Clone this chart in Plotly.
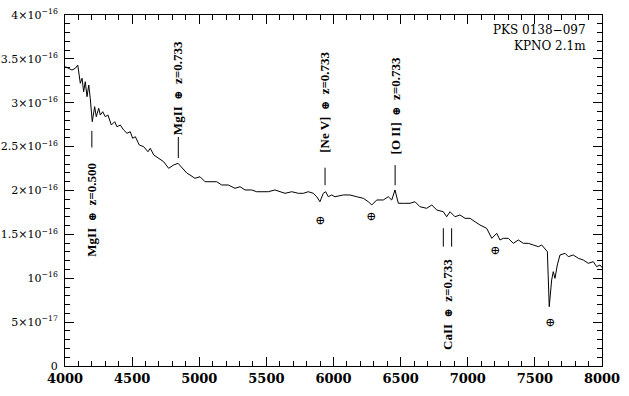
import plotly.graph_objects as go

# Spectrum (wavelength in Angstrom, flux in units of 1e-16)
wavelength = [4002, 4028, 4052, 4077, 4095, 4114, 4127, 4139, 4151, 4164, 4177, 4188, 4203,
              4221, 4233, 4251, 4263, 4281, 4300, 4320, 4345, 4370, 4387, 4412, 4437, 4462,
              4486, 4504, 4524, 4553, 4586, 4618, 4635, 4661, 4698, 4735, 4772, 4810, 4842,
              4872, 4909, 4931, 4968, 5006, 5043, 5080, 5130, 5167, 5216, 5266, 5304, 5341,
              5391, 5428, 5465, 5514, 5564, 5602, 5639, 5689, 5738, 5775, 5812, 5850, 5875,
              5899, 5924, 5942, 5961, 5987, 6011, 6073, 6123, 6173, 6222, 6259, 6285, 6322,
              6371, 6408, 6434, 6458, 6483, 6520, 6570, 6607, 6644, 6694, 6732, 6769, 6818,
              6843, 6868, 6905, 6942, 6980, 7017, 7054, 7091, 7141, 7179, 7216, 7240, 7265,
              7302, 7339, 7377, 7414, 7451, 7488, 7526, 7551, 7575, 7593, 7607, 7625, 7637,
              7650, 7667, 7687, 7725, 7749, 7786, 7824, 7861, 7898, 7935, 7960, 7985, 8004]
flux_e16 = [3.411, 3.393, 3.373, 3.393, 3.430, 3.222, 3.279, 3.126, 3.240, 3.069, 3.202, 3.051, 2.784,
            2.955, 2.841, 2.937, 2.860, 2.898, 2.841, 2.860, 2.746, 2.784, 2.727, 2.746, 2.689, 2.652,
            2.670, 2.595, 2.613, 2.519, 2.499, 2.442, 2.481, 2.405, 2.367, 2.328, 2.253, 2.291, 2.310,
            2.253, 2.196, 2.177, 2.139, 2.157, 2.100, 2.100, 2.100, 2.063, 2.063, 2.025, 2.043, 2.006,
            2.006, 1.986, 1.986, 1.986, 2.006, 1.986, 1.968, 1.986, 1.968, 1.968, 1.986, 1.968, 1.929,
            1.872, 1.968, 1.986, 1.929, 1.949, 1.929, 1.949, 1.949, 1.929, 1.911, 1.872, 1.835, 1.892,
            1.892, 1.929, 1.892, 2.006, 1.854, 1.854, 1.854, 1.872, 1.815, 1.797, 1.835, 1.778, 1.758,
            1.701, 1.758, 1.701, 1.721, 1.683, 1.683, 1.644, 1.607, 1.569, 1.455, 1.512, 1.436, 1.455,
            1.455, 1.398, 1.436, 1.398, 1.398, 1.379, 1.360, 1.379, 1.341, 1.303, 0.676, 0.980, 1.075,
            0.999, 1.151, 1.265, 1.284, 1.246, 1.265, 1.227, 1.208, 1.170, 1.189, 1.132, 1.151, 1.117]

# Line identifications
id_labels = ["MgII ⊕ z=0.500", "MgII ⊕ z=0.733", "[Ne V] ⊕ z=0.733", "[O II] ⊕ z=0.733", "CaII ⊕ z=0.733"]
id_label_wl = [4200, 4844, 5937, 6459, 6848]
id_label_flux = [1.78, 3.17, 3.00, 2.96, 0.70]
tick_wl = [4200, 4844, 5937, 6459, 6818, 6880]
tick_flux_lo = [2.49, 2.37, 2.06, 2.06, 1.36, 1.36]
tick_flux_hi = [2.68, 2.61, 2.26, 2.29, 1.57, 1.57]

# Telluric features
telluric_wl = [5900, 6280, 7203, 7613]
telluric_flux = [1.65, 1.70, 1.31, 0.49]

x_ticks = [4000, 4500, 5000, 5500, 6000, 6500, 7000, 7500, 8000]
y_tickvals_e16 = [0, 0.5, 1.0, 1.5, 2.0, 2.5, 3.0, 3.5, 4.0]
y_ticktext = ["0", "5×10<sup>−17</sup>", "10<sup>−16</sup>", "1.5×10<sup>−16</sup>", "2×10<sup>−16</sup>",
              "2.5×10<sup>−16</sup>", "3×10<sup>−16</sup>", "3.5×10<sup>−16</sup>", "4×10<sup>−16</sup>"]

info_lines = ["PKS 0138−097", "KPNO 2.1m"]

S = 1e-16
FONT = "DejaVu Serif"
LABEL_FONT = "Liberation Serif"
EARTH = '<span style="font-family:DejaVu Serif;font-size:11px">⊕</span>'

fig = go.Figure()
fig.add_trace(go.Scatter(x=wavelength, y=[f * S for f in flux_e16], mode="lines",
                         line=dict(color="black", width=1), showlegend=False))

seg_x, seg_y = [], []
for w, lo, hi in zip(tick_wl, tick_flux_lo, tick_flux_hi):
    seg_x += [w, w, None]
    seg_y += [lo * S, hi * S, None]
fig.add_trace(go.Scatter(x=seg_x, y=seg_y, mode="lines",
                         line=dict(color="black", width=1), showlegend=False))

fig.add_trace(go.Scatter(x=telluric_wl, y=[f * S for f in telluric_flux], mode="text",
                         text=["⊕"] * len(telluric_wl),
                         textfont=dict(family=FONT, size=12, color="black"), showlegend=False))

for lab, w, f in zip(id_labels, id_label_wl, id_label_flux):
    txt = lab.replace(" ⊕ ", "  " + EARTH + "  ")
    fig.add_annotation(x=w, y=f * S, text="<b>" + txt + "</b>", textangle=-90,
                       showarrow=False, font=dict(family=LABEL_FONT, size=13, color="black"))

fig.add_annotation(x=1, xref="paper", y=1, yref="paper", xanchor="right", yanchor="top",
                   xshift=-14, yshift=-6, align="right", showarrow=False,
                   text="<br>".join(info_lines), font=dict(family=FONT, size=12, color="black"))

axis_common = dict(showgrid=False, zeroline=False, showline=True, linecolor="black", linewidth=1,
                   mirror="allticks", ticks="inside", ticklen=9, tickcolor="black", tickwidth=1,
                   automargin=False)
fig.update_xaxes(range=[4000, 8000], tickvals=x_ticks, ticktext=[f"<b>{v}</b>" for v in x_ticks],
                 tickfont=dict(family=FONT, size=13, color="black"),
                 minor=dict(dtick=100, ticklen=5, ticks="inside", tickcolor="black"), **axis_common)
fig.update_yaxes(range=[0, 4 * S], tickvals=[v * S for v in y_tickvals_e16],
                 ticktext=y_ticktext, ticklabelstandoff=4,
                 tickfont=dict(family=FONT, size=11, color="black"),
                 minor=dict(dtick=0.1 * S, ticklen=5, ticks="inside", tickcolor="black"), **axis_common)

fig.update_layout(width=629, height=396, margin=dict(l=65, r=27, t=15, b=30),
                  plot_bgcolor="white", paper_bgcolor="white",
                  font=dict(family=FONT, color="black"))
fig.write_html("out.html")
